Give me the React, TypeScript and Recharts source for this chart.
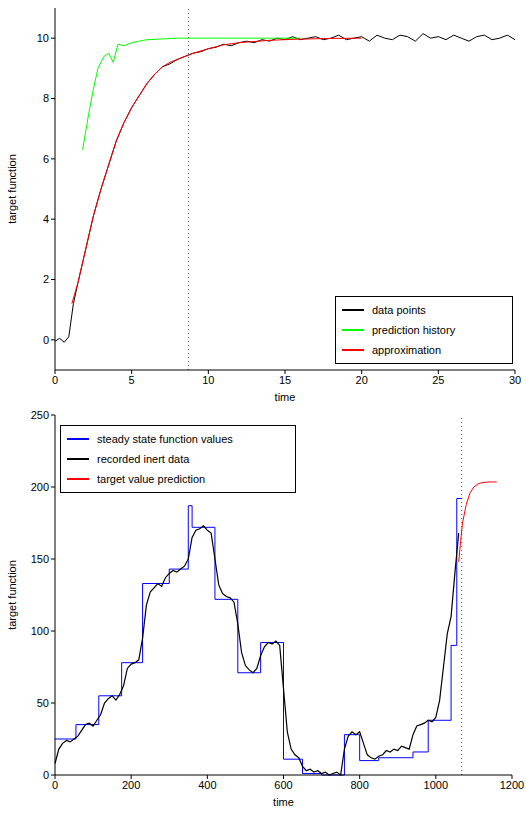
import { LineChart, Line, XAxis, YAxis, ReferenceLine } from 'recharts'

// top panel
const topT = [0, 0.3, 0.6, 0.9, 1.2, 1.5, 2, 2.5, 3, 3.5, 4, 4.5, 5, 5.5, 6, 6.5, 7, 7.5, 8, 8.5, 9, 9.5, 10, 10.5, 11, 11.5, 12, 12.5, 13, 13.5, 14, 14.5, 15, 15.5, 16, 16.5, 17, 17.5, 18, 18.5, 19, 19.5, 20, 20.5, 21, 21.5, 22, 22.5, 23, 23.5, 24, 24.5, 25, 25.5, 26, 26.5, 27, 27.5, 28, 28.5, 29, 29.5, 30]
const topData = [-0.05, 0.05, -0.08, 0.1, 1.2, 1.9, 3.0, 4.1, 5.0, 5.8, 6.6, 7.2, 7.7, 8.1, 8.5, 8.8, 9.05, 9.15, 9.3, 9.4, 9.5, 9.55, 9.65, 9.7, 9.8, 9.75, 9.85, 9.9, 9.85, 9.95, 9.9, 10.0, 9.95, 10.05, 9.95, 10.0, 10.05, 9.95, 10.0, 10.1, 9.95, 10.0, 10.05, 9.9, 10.1, 10.0, 9.95, 10.1, 10.05, 9.9, 10.15, 10.0, 10.05, 9.95, 10.1, 10.0, 9.9, 10.05, 10.1, 9.95, 10.0, 10.1, 9.95]
const approxT = [1.1, 1.5, 2, 2.5, 3, 3.5, 4, 4.5, 5, 5.5, 6, 6.5, 7, 7.5, 8, 9, 10, 11, 12, 14, 16, 18, 20]
const approxY = [1.2, 1.9, 3.0, 4.1, 5.0, 5.8, 6.6, 7.2, 7.7, 8.1, 8.5, 8.8, 9.05, 9.2, 9.3, 9.5, 9.65, 9.78, 9.85, 9.93, 9.97, 9.99, 10.0]
const histT = [1.8, 2.2, 2.5, 2.8, 3.2, 3.5, 3.8, 4.1, 4.5, 5, 6, 8, 10, 12, 14, 16]
const histY = [6.3, 7.5, 8.3, 9.0, 9.4, 9.5, 9.2, 9.8, 9.75, 9.85, 9.95, 10.0, 10.0, 10.0, 10.0, 10.0]

// bottom panel
const inertT = [0, 10, 20, 30, 40, 50, 60, 70, 80, 90, 100, 110, 120, 130, 140, 150, 160, 170, 180, 190, 200, 210, 220, 230, 240, 250, 260, 270, 280, 290, 300, 310, 320, 330, 340, 350, 360, 370, 380, 390, 400, 410, 420, 430, 440, 450, 460, 470, 480, 490, 500, 510, 520, 530, 540, 550, 560, 570, 580, 590, 600, 610, 620, 630, 640, 650, 660, 670, 680, 690, 700, 710, 720, 730, 740, 750, 760, 770, 780, 790, 800, 810, 820, 830, 840, 850, 860, 870, 880, 890, 900, 910, 920, 930, 940, 950, 960, 970, 980, 990, 1000, 1010, 1020, 1030, 1040, 1050, 1060]
const inertY = [8, 18, 22, 24, 23, 25, 27, 31, 35, 36, 34, 38, 42, 50, 53, 55, 52, 56, 62, 74, 77, 78, 80, 95, 118, 127, 130, 133, 131, 137, 140, 142, 141, 143, 145, 150, 165, 170, 171, 173, 170, 168, 150, 132, 126, 124, 123, 120, 105, 85, 76, 73, 71, 74, 83, 89, 92, 91, 93, 90, 60, 30, 18, 14, 12, 6, 3, 4, 2, 3, 1, 2, 0, 1, 2, 0, 18, 27, 30, 28, 30, 22, 14, 12, 11, 13, 14, 17, 16, 18, 17, 20, 19, 18, 28, 34, 35, 36, 38, 37, 40, 52, 75, 98, 110, 140, 168]
const stepT = [0, 55, 115, 175, 230, 300, 350, 360, 420, 480, 540, 600, 650, 700, 760, 800, 850, 940, 980, 1040, 1055, 1068]
const stepY = [25, 35, 55, 78, 133, 143, 187, 172, 122, 71, 92, 11, 1, 0, 28, 10, 12, 16, 38, 90, 192, 192]
const predT = [1060, 1065, 1070, 1080, 1090, 1100, 1110, 1120, 1140, 1160]
const predY = [148, 162, 175, 188, 196, 200, 202, 203, 203.5, 203.5]

const zip = (xs: number[], ys: number[]) => xs.map((x, i) => ({ x, y: ys[i] }))

const font = 'Liberation Sans, Arial, sans-serif'
const tick = { fontSize: 11, fill: '#000', fontFamily: font }

function Frame({ xDomain, yDomain, xTicks, yTicks }: any) {
  return (
    <>
      <XAxis dataKey="x" type="number" domain={xDomain} ticks={xTicks} tick={tick} tickSize={4} stroke="#000" height={35}
        label={{ value: 'time', position: 'insideBottom', offset: 4, fontSize: 11, fill: '#000', fontFamily: font }} allowDuplicatedCategory={false} />
      <XAxis xAxisId="top" orientation="top" type="number" domain={xDomain} ticks={xTicks} tick={false} tickSize={4} stroke="#000" height={0} />
      <YAxis type="number" domain={yDomain} ticks={yTicks} tick={tick} tickSize={4} stroke="#000" width={55}
        label={{ value: 'target function', angle: -90, position: 'insideLeft', offset: 12, fontSize: 11, fill: '#000', fontFamily: font, style: { textAnchor: 'middle' } }} />
      <YAxis yAxisId="right" orientation="right" type="number" domain={yDomain} ticks={yTicks} tick={false} tickSize={4} stroke="#000" width={0} />
    </>
  )
}

const legendBox: React.CSSProperties = { position: 'absolute', border: '1px solid #000', background: '#fff', fontFamily: font, fontSize: 11, padding: '3px 6px' }
function LegendRow({ color, text }: { color: string; text: string }) {
  return (
    <div style={{ display: 'flex', alignItems: 'center', height: 20 }}>
      <span style={{ width: 22, height: 1.5, background: color, marginRight: 8 }} />
      {text}
    </div>
  )
}

export default function App() {
  return (
    <div style={{ position: 'absolute', left: 0, top: 0, width: 526, height: 814, background: '#fff' }}>
      <LineChart width={526} height={405} margin={{ top: 8, right: 11, left: 0, bottom: 0 }}>
        {Frame({ xDomain: [0, 30], yDomain: [-1, 11], xTicks: [0, 5, 10, 15, 20, 25, 30], yTicks: [0, 2, 4, 6, 8, 10] })}
        <ReferenceLine x={8.7} stroke="#555" strokeDasharray="1 3" />
        <Line data={zip(topT, topData)} dataKey="y" stroke="#000" dot={false} strokeWidth={1} isAnimationActive={false} />
        <Line data={zip(histT, histY)} dataKey="y" stroke="#00ff00" dot={false} strokeWidth={1} isAnimationActive={false} />
        <Line data={zip(approxT, approxY)} dataKey="y" stroke="#ff0000" dot={false} strokeWidth={1} isAnimationActive={false} />
      </LineChart>
      <div style={{ ...legendBox, left: 335, top: 296, width: 164 }}>
        <LegendRow color="#000" text="data points" />
        <LegendRow color="#00ff00" text="prediction history" />
        <LegendRow color="#ff0000" text="approximation" />
      </div>
      <div style={{ position: 'absolute', left: 0, top: 405 }}>
        <LineChart width={526} height={409} margin={{ top: 10, right: 14, left: 0, bottom: 4 }}>
          {Frame({ xDomain: [0, 1200], yDomain: [0, 250], xTicks: [0, 200, 400, 600, 800, 1000, 1200], yTicks: [0, 50, 100, 150, 200, 250] })}
          <ReferenceLine x={1068} stroke="#555" strokeDasharray="1 3" />
          <Line data={zip(stepT, stepY)} dataKey="y" type="stepAfter" stroke="#0000ff" dot={false} strokeWidth={1} isAnimationActive={false} />
          <Line data={zip(inertT, inertY)} dataKey="y" stroke="#000" dot={false} strokeWidth={1.2} isAnimationActive={false} />
          <Line data={zip(predT, predY)} dataKey="y" stroke="#ff0000" dot={false} strokeWidth={1} isAnimationActive={false} />
        </LineChart>
      </div>
      <div style={{ ...legendBox, left: 60, top: 425, width: 222 }}>
        <LegendRow color="#0000ff" text="steady state function values" />
        <LegendRow color="#000" text="recorded inert data" />
        <LegendRow color="#ff0000" text="target value prediction" />
      </div>
    </div>
  )
}
